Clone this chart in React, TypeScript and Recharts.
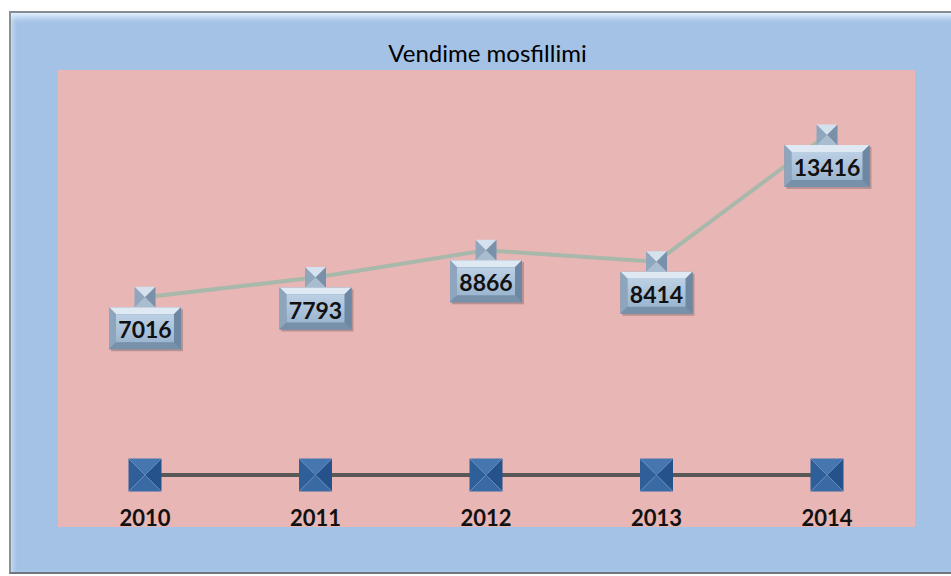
import { LineChart, Line, XAxis, YAxis, LabelList } from 'recharts'

const years = ['2010', '2011', '2012', '2013', '2014']
const sales = [7016, 7793, 8866, 8414, 13416]
const baseline = [0, 0, 0, 0, 0]

const data = years.map((year, i) => ({ year, sales: sales[i], base: baseline[i] }))

const FONT = 'Lato, "Open Sans", sans-serif'

// beveled box like the Excel 3D label style
function Bevel({ x, y, w, h, b, colors }: any) {
  const [top, left, right, bottom, mid] = colors
  return (
    <g>
      <rect x={x} y={y} width={w} height={h} fill={right} />
      <polygon points={`${x},${y} ${x + w},${y} ${x + w - b},${y + b} ${x + b},${y + b}`} fill={top} />
      <polygon points={`${x},${y} ${x + b},${y + b} ${x + b},${y + h - b} ${x},${y + h}`} fill={left} />
      <polygon points={`${x + w},${y} ${x + w},${y + h} ${x + w - b},${y + h - b} ${x + w - b},${y + b}`} fill={right} />
      <polygon points={`${x},${y + h} ${x + w},${y + h} ${x + w - b},${y + h - b} ${x + b},${y + h - b}`} fill={bottom} />
      <rect x={x + b} y={y + b} width={w - 2 * b} height={h - 2 * b} fill="url(#boxMid)" />
    </g>
  )
}

// pyramid-style square marker
function Pyramid({ cx, cy, s, colors }: any) {
  const [top, left, right, bottom] = colors
  const x = cx - s / 2
  const y = cy - s / 2
  return (
    <g>
      <polygon points={`${x},${y} ${x + s},${y} ${cx},${cy}`} fill={top} />
      <polygon points={`${x},${y} ${cx},${cy} ${x},${y + s}`} fill={left} />
      <polygon points={`${x + s},${y} ${x + s},${y + s} ${cx},${cy}`} fill={right} />
      <polygon points={`${x},${y + s} ${x + s},${y + s} ${cx},${cy}`} fill={bottom} />
    </g>
  )
}

function SalesDot(props: any) {
  const { cx, cy, index } = props
  return (
    <g key={`sd-${index}`}>
      <Pyramid cx={cx} cy={cy} s={21} colors={['#d4e1ee', '#8fa6bf', '#7890aa', '#a9bdd1']} />
    </g>
  )
}

function BaseDot(props: any) {
  const { cx, cy, index } = props
  return (
    <g key={`bd-${index}`}>
      <Pyramid cx={cx} cy={cy} s={33} colors={['#4576b0', '#2f5f98', '#25528a', '#3a6aa3']} />
      <line x1={cx - 16} y1={cy - 16} x2={cx + 16} y2={cy + 16} stroke="#6f9bd0" strokeWidth={1} opacity={0.6} />
      <line x1={cx + 16} y1={cy - 16} x2={cx - 16} y2={cy + 16} stroke="#6f9bd0" strokeWidth={1} opacity={0.6} />
    </g>
  )
}

function SalesLabel(props: any) {
  const { x, y, value } = props
  const txt = String(value)
  const w = txt.length > 4 ? 85 : 72
  const h = 42
  const top = y + 10
  return (
    <g>
      <rect x={x - w / 2 + 2} y={top + 2} width={w} height={h} fill="#000" opacity={0.2} />
      <Bevel
        x={x - w / 2}
        y={top}
        w={w}
        h={h}
        b={7}
        colors={['#dfe9f3', '#8ea5be', '#6e87a2', '#7891ab']}
      />
      <text
        x={x}
        y={top + h / 2 + 1}
        textAnchor="middle"
        dominantBaseline="central"
        fontFamily={FONT}
        fontWeight={700}
        fontSize={23}
        fill="#111"
      >
        {txt}
      </text>
    </g>
  )
}

function YearLabel(props: any) {
  const { x, y, value } = props
  return (
    <text
      x={x}
      y={y + 42}
      textAnchor="middle"
      dominantBaseline="central"
      fontFamily={FONT}
      fontWeight={700}
      fontSize={22}
      fill="#111"
    >
      {value}
    </text>
  )
}

export default function App() {
  return (
    <div style={{ position: 'absolute', left: 0, top: 0, width: 951, height: 576, background: '#fff', overflow: 'hidden' }}>
      <div
        style={{
          position: 'absolute',
          left: 9,
          top: 11,
          width: 950,
          height: 563,
          boxSizing: 'border-box',
          background: '#a4c2e6',
          borderTop: '2px solid #858b94',
          borderLeft: '2px solid #8a9098',
          borderBottom: '2px solid #6f7680',
          boxShadow: 'inset 0 7px 6px -3px #e4f3ff, inset 4px 0 5px -2px #c4daf0',
        }}
      />
      <div
        style={{
          position: 'absolute',
          left: 0,
          width: 975,
          top: 38,
          textAlign: 'center',
          fontFamily: FONT,
          fontSize: 24,
          lineHeight: '30px',
          color: '#000',
        }}
      >
        Vendime mosfillimi
      </div>
      <div style={{ position: 'absolute', left: 58, top: 70, width: 857, height: 457, background: '#e8b6b5' }} />
      <div style={{ position: 'absolute', left: 58, top: 70 }}>
        <LineChart width={857} height={500} data={data} margin={{ top: 0, right: 0, bottom: 43, left: 0 }}>
          <defs>
            <linearGradient id="boxMid" x1="0" y1="0" x2="0" y2="1">
              <stop offset="0%" stopColor="#bcd0e4" />
              <stop offset="100%" stopColor="#9cb6d0" />
            </linearGradient>
          </defs>
          <XAxis dataKey="year" hide padding={{ left: 87, right: 88 }} />
          <YAxis hide domain={[-2050, 15980]} />
          <Line
            dataKey="base"
            stroke="#5a5757"
            strokeWidth={4}
            dot={<BaseDot />}
            activeDot={false}
            isAnimationActive={false}
          >
            <LabelList dataKey="year" content={<YearLabel />} />
          </Line>
          <Line
            dataKey="sales"
            stroke="#a8b8aa"
            strokeWidth={4}
            dot={<SalesDot />}
            activeDot={false}
            isAnimationActive={false}
          >
            <LabelList dataKey="sales" content={<SalesLabel />} />
          </Line>
        </LineChart>
      </div>
    </div>
  )
}
